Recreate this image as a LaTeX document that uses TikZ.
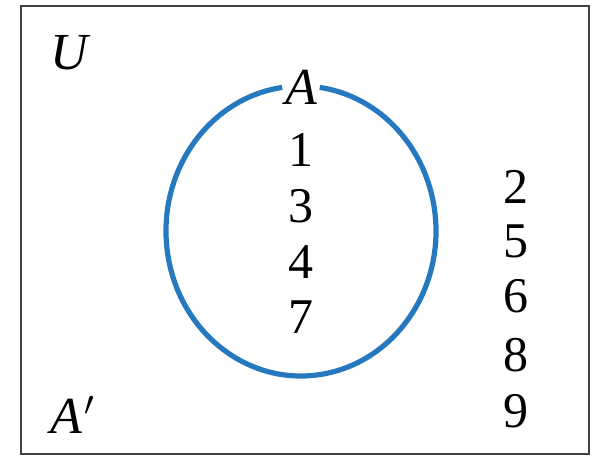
\documentclass[tikz,border=0pt]{standalone}
\usepackage{fontspec}
\setmainfont{Liberation Serif}
\usepackage{tikz}
\usetikzlibrary{positioning}
\definecolor{setblue}{RGB}{38,121,191}

\begin{document}
\begin{tikzpicture}[x=0.5pt,y=0.5pt,
  elem/.style={inner sep=0pt,font=\fontsize{25}{30}\selectfont},
  setname/.style={inner sep=0pt,font=\fontsize{26}{30}\selectfont\itshape}]
\useasboundingbox (0,0) rectangle (596,456);
\draw[line width=1pt,black!75] (21,2) rectangle (589,450);

% set A
\coordinate (cA) at (301,225);
\draw[setblue,line width=2.6pt] (cA) ++(98:135 and 145)
  arc[start angle=98,end angle=442,x radius=135,y radius=145];
\node[setname] (A) at (301,369) {A};

\node[setname] (U) at (69,403) {U};
\node[setname] (Ac) at (73,41) {A\kern1pt$'$};

% elements of A
\node[elem] (e1) at (301,306) {1};
\node[elem] (e3) at (301,250) {3};
\node[elem] (e4) at (301,194) {4};
\node[elem] (e7) at (301,139) {7};

% elements of A'
\node[elem] (e2) at (516,269) {2};
\node[elem] (e5) at (516,215) {5};
\node[elem] (e6) at (516,160) {6};
\node[elem] (e8) at (516,101) {8};
\node[elem] (e9) at (516,45) {9};
\end{tikzpicture}
\end{document}
